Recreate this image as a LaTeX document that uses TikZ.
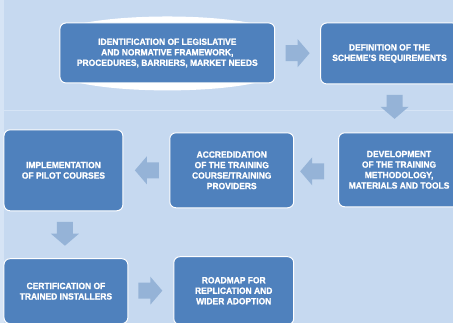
\documentclass[tikz,border=0pt]{standalone}
\usepackage{fontspec}
\setmainfont{Liberation Sans}[FakeStretch=0.94, BoldFeatures={FakeBold=1.2}]
\usepackage{xcolor}
\usetikzlibrary{calc}

\definecolor{bgblue}{HTML}{C6D9F0}
\definecolor{stripblue}{HTML}{D6E4F5}
\definecolor{boxblue}{HTML}{4F81BD}
\definecolor{arrowblue}{HTML}{95B3D7}

\tikzset{
	stage/.style = {draw = white, line width = 1pt, fill = boxblue, rounded corners = 6pt,
		text = white, align = center, font = \fontsize{9}{10.5}\selectfont\bfseries, inner sep = 2pt},
	blockarrow/.style = {fill = arrowblue}
}

\begin{document}
\begin{tikzpicture}[x = 1pt, y = -1pt]
		%background
		\fill [bgblue] (0,0) rectangle (453,323);
		\fill [stripblue] (0,0) rectangle (4,323);
		\draw [stripblue, line width = 1pt] (4,111) -- (453,111);
		\useasboundingbox (0,0) rectangle (453,323);
		
		%glow behind first stage
		\fill [white] (60,30) .. controls (100,12) and (235,12) .. (275,30) -- (275,77) .. controls (235,95) and (100,95) .. (60,77) -- cycle;
		
		%stages
		\node [stage, minimum width = 215pt, minimum height = 60pt] (ident) at (167.5,53) {IDENTIFICATION OF LEGISLATIVE\\AND NORMATIVE FRAMEWORK,\\PROCEDURES, BARRIERS, MARKET NEEDS};
		\node [stage, minimum width = 138pt, minimum height = 61pt] (defin) at (390,53.5) {DEFINITION OF THE\\SCHEME'S REQUIREMENTS};
		\node [stage, minimum width = 121pt, minimum height = 74pt] (devel) at (399.5,170) {DEVELOPMENT\\OF THE TRAINING\\METHODOLOGY,\\MATERIALS AND TOOLS};
		\node [stage, minimum width = 124pt, minimum height = 75pt] (accred) at (232,170.5) {ACCREDIDATION\\OF THE TRAINING\\COURSE/TRAINING\\PROVIDERS};
		\node [stage, minimum width = 119pt, minimum height = 81pt] (pilot) at (63.5,170.5) {IMPLEMENTATION\\OF PILOT COURSES};
		\node [stage, minimum width = 124pt, minimum height = 65pt] (certif) at (66,291.5) {CERTIFICATION OF\\TRAINED INSTALLERS};
		\node [stage, minimum width = 120pt, minimum height = 68pt] (roadmap) at (234,291) {ROADMAP FOR\\REPLICATION AND\\WIDER ADOPTION};
		
		%arrows between stages
		\coordinate (a1) at ($ (ident.east)!0.5!(defin.west) $);
		\coordinate (a2) at (395,107);
		\coordinate (a3) at (312.5,171.5);
		\coordinate (a4) at (147,170.5);
		\coordinate (a5) at (65,234);
		\coordinate (a6) at (150.5,291);
		
		\foreach \c/\r in {a1/0, a2/-90, a3/180, a4/180, a5/-90, a6/0}
			\fill [blockarrow, shift = {(\c)}, rotate = \r] (-12,-8) -- (0,-8) -- (0,-14) -- (12,0) -- (0,14) -- (0,8) -- (-12,8) -- cycle;
	\end{tikzpicture}
\end{document}
